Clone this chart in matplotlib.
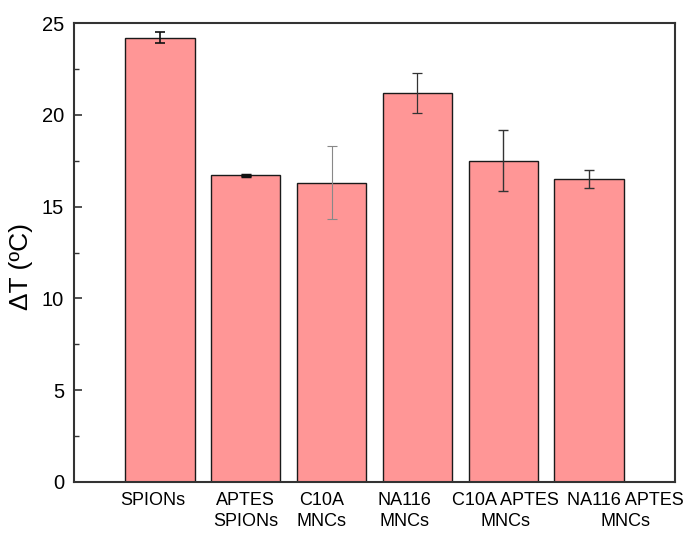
import numpy as np
import matplotlib
matplotlib.use("Agg")
import matplotlib.pyplot as plt
from matplotlib.ticker import MultipleLocator

plt.rcParams['font.family'] = ['Liberation Sans', 'DejaVu Sans']

labels = ["SPIONs", "APTES\nSPIONs", "C10A\nMNCs", "NA116\nMNCs", "C10A APTES\nMNCs", "NA116 APTES\nMNCs"]
delta_t = [24.2, 16.7, 16.3, 21.2, 17.5, 16.5]
errors = [0.3, 0.05, 2.0, 1.1, 1.65, 0.48]
err_colors = ["#111111", "#111111", "#888888", "#333333", "#333333", "#333333"]
err_widths = [1.2, 2.5, 0.8, 0.9, 1.0, 1.0]
# labels in the original were nudged by hand so they don't collide
label_shift = [-0.08, 0.0, -0.12, -0.15, 0.02, 0.42]

fig = plt.figure(figsize=(6.91, 5.33), dpi=100)
ax = fig.add_axes([0.107, 0.0957, 0.870, 0.861])

x = np.arange(1, len(labels) + 1)
ax.bar(x, delta_t, width=0.81, color="#FF9696", edgecolor="#1a1a1a", linewidth=1.0, zorder=2)
for xi, yi, ei, c, lw in zip(x, delta_t, errors, err_colors, err_widths):
    ax.errorbar(xi, yi, yerr=ei, fmt="none", ecolor=c, elinewidth=min(lw, 1.2),
                capsize=3.5, capthick=lw, zorder=3)

ax.set_xlim(0, 7)
ax.set_ylim(0, 25)
ax.set_xticks(x)
ax.set_xticklabels([])
for xi, lab, sh in zip(x, labels, label_shift):
    ax.text(xi + sh, -0.022, lab, transform=ax.get_xaxis_transform(), ha="center", va="top",
            ma="center", fontsize=13, linespacing=1.3)

ax.yaxis.set_major_locator(MultipleLocator(5))
ax.yaxis.set_minor_locator(MultipleLocator(2.5))
ax.tick_params(axis="y", which="major", direction="in", length=6, width=1.2, labelsize=14.5, pad=7, color="#333333")
ax.tick_params(axis="y", which="minor", direction="in", length=3.5, width=1.0, color="#333333")
ax.tick_params(axis="x", direction="in", length=7, width=1.0, color="#333333")
ax.set_ylabel("ΔT (ºC)", fontsize=19)
ax.yaxis.set_label_coords(-0.068, 0.47)

for s in ax.spines.values():
    s.set_linewidth(1.5)
    s.set_color("#333333")

fig.savefig("out.png", dpi=100)
